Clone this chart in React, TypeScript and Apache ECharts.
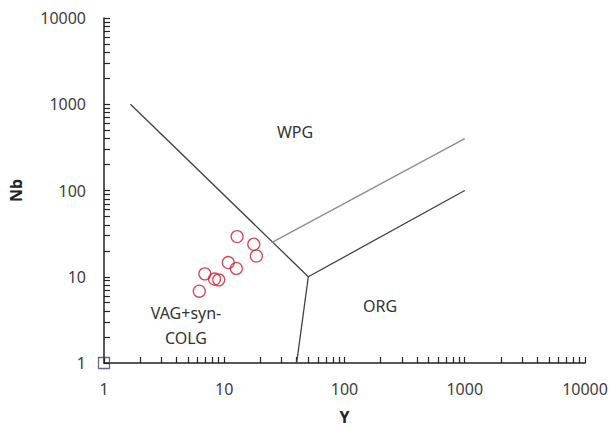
import React, { useEffect, useRef } from "react";
import * as echarts from "echarts";

// Sample data (Y, Nb) in ppm
const sampleY = [12.8, 17.6, 18.5, 10.8, 12.6, 6.9, 8.3, 9.0, 6.2];
const sampleNb = [29.2, 23.8, 17.4, 14.6, 12.5, 10.8, 9.4, 9.2, 6.8];

// Reference point at origin (square)
const originPoint = [[1, 1]];

// Field boundaries (Pearce et al. 1984)
const lineVagWpg = [[1.66, 1000], [50, 10]];
const lineVagOrg = [[40, 1], [50, 10]];
const lineWpgOrg = [[25, 25], [1000, 400]];
const lineOrgLower = [[50, 10], [1000, 100]];

// Axis ticks
const majorTicks = [1, 10, 100, 1000, 10000];
const allTicks: number[] = [];
for (let d = 0; d < 4; d++) {
  const base = Math.pow(10, d);
  for (let m = 1; m <= 9; m++) allTicks.push(Math.round(m * base));
}
allTicks.push(10000);

const FONT = "Noto Sans";

export default function App() {
  const ref = useRef<HTMLDivElement>(null);
  useEffect(() => {
    if (!ref.current) return;
    const chart = echarts.init(ref.current, undefined, { renderer: "svg" });
    const points = sampleY.map((y, i) => [y, sampleNb[i]]);
    const lineSeries = (data: number[][], color: string) => ({
      type: "line",
      data,
      symbol: "none",
      silent: true,
      lineStyle: { color, width: 1.3 },
      z: 1,
    });
    const axisCommon = {
      type: "log",
      logBase: 10,
      min: 1,
      max: 10000,
      splitLine: { show: false },
      minorTick: { show: false },
      axisLine: { show: true, onZero: false, lineStyle: { color: "#222", width: 1.5 } },
      axisTick: {
        show: true,
        inside: true,
        length: 6,
        customValues: allTicks,
        lineStyle: { color: "#222", width: 1.2 },
      },
      axisLabel: {
        customValues: majorTicks,
        color: "#404040",
        fontFamily: FONT,
        fontSize: 16,
        margin: 18,
        formatter: (v: number) => String(Math.round(v)),
      },
      nameLocation: "middle",
      nameTextStyle: { color: "#222", fontFamily: FONT, fontSize: 16, fontWeight: "bold" },
    };
    chart.setOption({
      animation: false,
      backgroundColor: "#fff",
      grid: { left: 102, right: 26, top: 18, bottom: 66, containLabel: false },
      xAxis: { ...axisCommon, name: "Y", nameGap: 46 },
      yAxis: { ...axisCommon, name: "Nb", nameGap: 80 },
      series: [
        lineSeries(lineVagWpg, "#404040"),
        lineSeries(lineVagOrg, "#404040"),
        lineSeries(lineWpgOrg, "#8a8aa0"),
        lineSeries(lineOrgLower, "#404040"),
        {
          type: "scatter",
          data: points,
          symbol: "circle",
          symbolSize: 12,
          itemStyle: { color: "rgba(0,0,0,0)", borderColor: "#c8202f", borderWidth: 1.3 },
          z: 3,
        },
        {
          type: "scatter",
          data: originPoint,
          symbol: "rect",
          symbolSize: 11,
          itemStyle: { color: "rgba(0,0,0,0)", borderColor: "#34437a", borderWidth: 1.3 },
          z: 4,
        },
      ],
      graphic: [
        { type: "text", x: 295, y: 132, style: { text: "WPG", fill: "#333", font: `16px "${FONT}"`, align: "center", verticalAlign: "middle" } },
        { type: "text", x: 380, y: 306, style: { text: "ORG", fill: "#333", font: `16px "${FONT}"`, align: "center", verticalAlign: "middle" } },
        { type: "text", x: 186, y: 313, style: { text: "VAG+syn-", fill: "#333", font: `16px "${FONT}"`, align: "center", verticalAlign: "middle" } },
        { type: "text", x: 186, y: 338, style: { text: "COLG", fill: "#333", font: `16px "${FONT}"`, align: "center", verticalAlign: "middle" } },
      ],
    });
    return () => chart.dispose();
  }, []);
  return (
    <div
      ref={ref}
      style={{ position: "fixed", left: 0, top: 0, width: 611, height: 430, background: "#fff" }}
    />
  );
}
